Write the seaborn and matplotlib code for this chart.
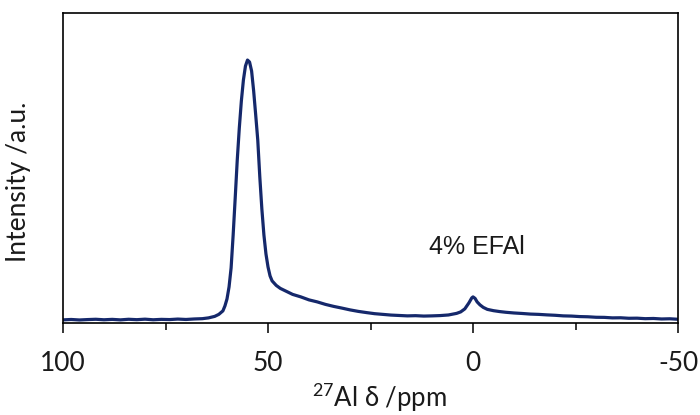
import matplotlib
matplotlib.use("Agg")
import matplotlib.pyplot as plt
from matplotlib.ticker import MultipleLocator
import seaborn as sns
import pandas as pd

# chemical shift (ppm) and intensity (a.u.)
ppm = [100, 98, 96, 94, 92, 90, 88, 86, 84, 82, 80, 78, 76, 74, 72, 70, 68, 66,
       64.5, 63, 62, 61, 60.5, 60, 59.5, 59, 58.5, 58, 57.5, 57, 56.5, 56, 55.5,
       55, 54.5, 54, 53.5, 53, 52.5, 52, 51.5, 51, 50.5, 50, 49.5, 49, 48, 47,
       46, 45, 44, 42, 40, 38, 36, 34, 32, 30, 28, 26, 24, 22, 20, 18, 16, 14,
       12, 10, 8, 6, 4, 3, 2, 1, 0.3, 0, -0.5, -1, -1.7, -2.5, -3.5, -5, -6.5,
       -8, -10, -12, -14, -16, -18, -20, -22, -24, -26, -28, -30, -32, -34, -36,
       -38, -40, -42, -44, -46, -48, -50]
intensity = [3.0, 3.4, 2.9, 3.3, 3.6, 3.1, 3.5, 3.0, 3.6, 3.2, 3.7, 3.1, 3.5, 3.3,
             3.8, 3.4, 3.9, 4.2, 5.0, 6.5, 8.5, 12, 17, 24, 36, 55, 88, 125, 163,
             195, 222, 243, 257, 263, 261, 252, 232, 208, 183, 146, 114, 88, 69,
             56, 47, 42, 37.5, 34.5, 32.5, 30.5, 28.5, 26, 23, 21, 18.5, 16.5,
             14.8, 13, 11.5, 10.3, 9.2, 8.5, 7.8, 7.4, 7.0, 7.2, 6.8, 7.0, 7.3,
             7.9, 9.5, 11, 14, 20, 25, 26, 24.5, 21, 18, 15.5, 13.5, 12.2, 11.3,
             10.6, 9.9, 9.4, 8.8, 8.5, 8.0, 7.6, 7.0, 6.8, 6.3, 6.1, 5.6, 5.5,
             5.0, 5.1, 4.6, 4.7, 4.2, 4.4, 3.9, 4.1, 3.6]

x_ticks = [100, 50, 0, -50]
x_tick_labels = ["100", "50", "0", "-50"]
annotation = "4% EFAl"

df = pd.DataFrame({"ppm": ppm, "intensity": intensity})

sns.set_theme(style="white")
plt.rcParams["font.family"] = ["Lato", "DejaVu Sans"]
plt.rcParams["mathtext.fontset"] = "custom"
plt.rcParams["mathtext.rm"] = "Lato"

fig = plt.figure(figsize=(7.0, 4.15), dpi=100)
ax = fig.add_axes([0.09, 0.222, 0.8786, 0.7465])

sns.lineplot(data=df, x="ppm", y="intensity", ax=ax, color="#15286b",
             linewidth=2.3, estimator=None, sort=False)

ax.set_xlim(100, -50)
ax.set_ylim(0, 310)
ax.set_xticks(x_ticks)
ax.set_xticklabels(x_tick_labels)
ax.xaxis.set_minor_locator(MultipleLocator(25))
ax.set_yticks([])

ax.tick_params(axis="x", which="major", direction="out", length=7.5, width=1.1,
               color="black", pad=13, labelsize=19, labelcolor="#1a1a1a",
               bottom=True)
ax.tick_params(axis="x", which="minor", direction="out", length=5, width=1.1,
               color="black", bottom=True)

for s in ax.spines.values():
    s.set_visible(True)
    s.set_color("black")
    s.set_linewidth(1.2)

ax.set_xlabel(r"$^{27}$Al δ /ppm", fontsize=18.5, color="#1a1a1a")
ax.xaxis.set_label_coords(0.515, -0.185)
ax.set_ylabel("Intensity /a.u.", fontsize=19, color="#1a1a1a")
ax.yaxis.set_label_coords(-0.052, 0.455)

ax.text(-1, 76, annotation, ha="center", va="center", fontsize=18,
        family=["Liberation Sans", "DejaVu Sans"], color="#1a1a1a")

fig.savefig("out.png", dpi=100)
